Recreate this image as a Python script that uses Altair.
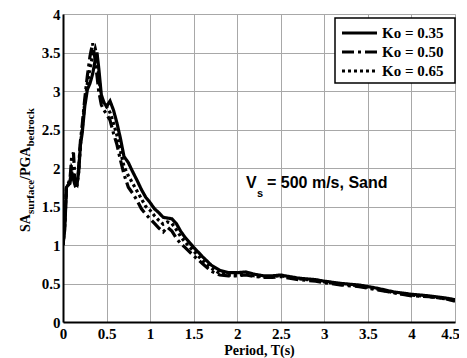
import altair as alt
import pandas as pd

period = [0, 0.02, 0.04, 0.06, 0.08, 0.1, 0.12, 0.14, 0.16, 0.18, 0.2, 0.22, 0.25, 0.28, 0.31, 0.34,
          0.37, 0.39, 0.41, 0.44, 0.47, 0.5, 0.54, 0.58, 0.62, 0.66, 0.7, 0.75, 0.8, 0.85, 0.9, 0.95,
          1.0, 1.05, 1.1, 1.15, 1.2, 1.25, 1.3, 1.35, 1.4, 1.5, 1.6, 1.7, 1.8, 1.9, 2.0, 2.1, 2.2,
          2.3, 2.4, 2.5, 2.6, 2.7, 2.8, 2.9, 3.0, 3.2, 3.4, 3.6, 3.8, 4.0, 4.2, 4.4, 4.5]

sa_035 = [1.0, 1.2, 1.75, 1.78, 1.8, 1.95, 1.85, 1.77, 1.78, 1.95, 2.3, 2.45, 2.8, 3.02, 3.1, 3.22,
          3.4, 3.5, 3.3, 2.95, 2.85, 2.8, 2.87, 2.75, 2.58, 2.38, 2.15, 2.07, 1.95, 1.84, 1.72, 1.62,
          1.55, 1.47, 1.42, 1.36, 1.35, 1.34, 1.28, 1.18, 1.1, 0.97, 0.85, 0.74, 0.67, 0.64, 0.64, 0.65, 0.62,
          0.6, 0.6, 0.61, 0.59, 0.57, 0.56, 0.55, 0.53, 0.5, 0.48, 0.44, 0.39, 0.36, 0.34, 0.31, 0.29]

sa_050 = [1.0, 1.3, 1.75, 1.8, 1.85, 2.15, 2.2, 1.8, 1.78, 2.0, 2.35, 2.55, 2.9, 3.2, 3.45, 3.62,
          3.4, 3.2, 3.0, 2.82, 2.75, 2.7, 2.62, 2.45, 2.3, 2.1, 1.92, 1.75, 1.67, 1.58, 1.47, 1.4,
          1.34, 1.28, 1.22, 1.17, 1.23, 1.18, 1.09, 1.02, 0.97, 0.86, 0.76, 0.66, 0.61, 0.6, 0.6, 0.61, 0.59,
          0.58, 0.58, 0.59, 0.57, 0.55, 0.54, 0.53, 0.51, 0.48, 0.46, 0.42, 0.38, 0.34, 0.33, 0.3, 0.27]

sa_065 = [1.0, 1.25, 1.75, 1.78, 1.82, 2.0, 1.95, 1.78, 1.78, 1.95, 2.3, 2.5, 2.85, 3.1, 3.3, 3.45,
          3.55, 3.45, 3.2, 2.9, 2.85, 2.8, 2.72, 2.58, 2.42, 2.22, 2.02, 1.9, 1.8, 1.7, 1.6, 1.5,
          1.45, 1.38, 1.32, 1.27, 1.3, 1.28, 1.2, 1.11, 1.04, 0.92, 0.8, 0.7, 0.63, 0.61, 0.61, 0.62, 0.6,
          0.59, 0.59, 0.6, 0.58, 0.56, 0.55, 0.54, 0.52, 0.49, 0.47, 0.43, 0.38, 0.35, 0.33, 0.3, 0.28]

labels = ["Ko = 0.35", "Ko = 0.50", "Ko = 0.65"]
dashes = [[1, 0], [12, 4, 3, 4], [3, 3]]

rows = []
for lab, vals in zip(labels, [sa_035, sa_050, sa_065]):
    for t, v in zip(period, vals):
        rows.append({"T": t, "SA": v, "Ko": lab})
df = pd.DataFrame(rows)

serif = "Liberation Serif"
sans = "Liberation Sans"

lines = alt.Chart(df).mark_line(color="black", strokeWidth=3.2, clip=True).encode(
    x=alt.X("T:Q", scale=alt.Scale(domain=[0, 4.5], nice=False),
            axis=alt.Axis(values=[0, 0.5, 1, 1.5, 2, 2.5, 3, 3.5, 4, 4.5], format="~g",
                          title="Period, T(s)", titleFont=serif, titleFontSize=14,
                          titleFontWeight="bold", titlePadding=2,
                          labelFont=serif, labelFontSize=15, labelFontWeight="bold",
                          labelColor="black", titleColor="black",
                          labelOffset={"condition": {"test": "datum.value == 4.5", "value": -5},
                                       "value": 0},
                          tickSize=0, labelPadding=4, domainColor="black", domainWidth=2,
                          gridColor="#a8a8a8", gridWidth=1, labelFlush=False)),
    y=alt.Y("SA:Q", scale=alt.Scale(domain=[0, 4], nice=False),
            axis=alt.Axis(values=[0, 0.5, 1, 1.5, 2, 2.5, 3, 3.5, 4], format="~g", title=None,
                          labelFont=serif, labelFontSize=15, labelFontWeight="bold",
                          labelColor="black", tickSize=0, labelPadding=3,
                          domainColor="black", domainWidth=2,
                          gridColor="#a8a8a8", gridWidth=1, labelFlush=False)),
    strokeDash=alt.StrokeDash("Ko:N", scale=alt.Scale(domain=labels, range=dashes), legend=None),
)

one = pd.DataFrame({"a": [0]})

# Legend box
legend_box = alt.Chart(one).mark_rect(fill="white", stroke="black", strokeWidth=1.5).encode(
    x=alt.value(272), x2=alt.value(392), y=alt.value(4), y2=alt.value(69))

legend_layers = [legend_box]
for i, (lab, d) in enumerate(zip(labels, dashes)):
    yy = 19 + 19 * i
    legend_layers.append(
        alt.Chart(one).mark_rule(color="black", strokeWidth=3.2, strokeDash=d).encode(
            x=alt.value(279), x2=alt.value(314), y=alt.value(yy)))
    legend_layers.append(
        alt.Chart(pd.DataFrame({"t": [lab]})).mark_text(
            font=serif, fontSize=15, fontWeight="bold", align="left", baseline="middle",
            color="black").encode(x=alt.value(319), y=alt.value(yy), text="t:N"))

# Y title pieces (rotated)
ytitle = [("SA", 14, -33, 218), ("surface", 11, -29.5, 200), ("/PGA", 14, -33, 166),
          ("bedrock", 11, -29.5, 132.5)]
ylayers = []
for txt, fs, xx, yy in ytitle:
    ylayers.append(alt.Chart(pd.DataFrame({"t": [txt]})).mark_text(
        font=serif, fontSize=fs, fontWeight="bold", angle=270, align="left",
        baseline="alphabetic", color="black").encode(
        x=alt.value(xx), y=alt.value(yy), text="t:N"))

# Annotation
annot = [("V", 16, 183, 174), ("s", 11, 194, 183), ("= 500 m/s, Sand", 16, 204, 174)]
alayers = []
for txt, fs, xx, yy in annot:
    alayers.append(alt.Chart(pd.DataFrame({"t": [txt]})).mark_text(
        font=sans, fontSize=fs, fontWeight="bold", align="left",
        baseline="alphabetic", color="black").encode(
        x=alt.value(xx), y=alt.value(yy), text="t:N"))

chart = alt.layer(lines, *legend_layers, *ylayers, *alayers).properties(
    width=392, height=308,
    autosize=alt.AutoSizeParams(type="none"),
    padding={"left": 55, "top": 6, "right": 4, "bottom": 36},
).configure_view(stroke="black", strokeWidth=1.5).configure(background="white")

chart.save("out.html", embed_options={"renderer": "svg", "actions": False})
